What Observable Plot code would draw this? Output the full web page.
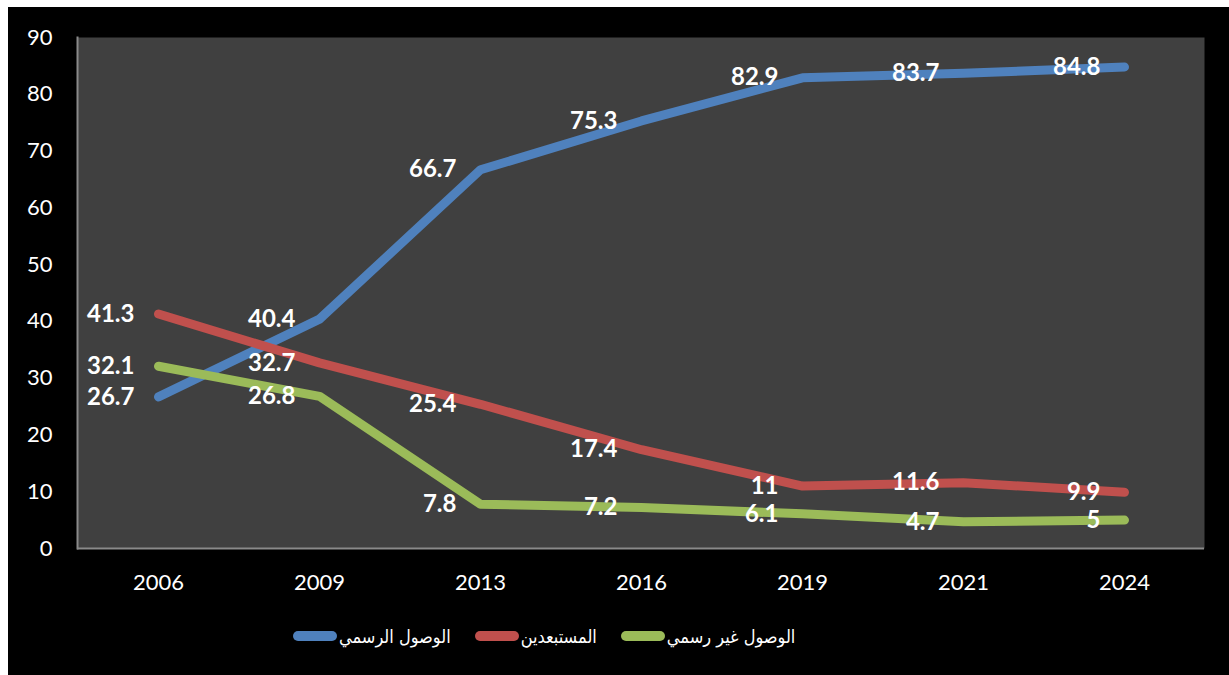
<!DOCTYPE html>
<html>
<head>
<meta charset="utf-8">
<script src="https://cdn.jsdelivr.net/npm/d3@7"></script>
<script src="https://cdn.jsdelivr.net/npm/@observablehq/plot@0.6"></script>
<style>
  html, body { margin: 0; padding: 0; background: #ffffff; }
  #box { position: absolute; left: 8px; top: 7px; width: 1221px; height: 668px; background: #000; overflow: hidden; }
  #legend { position: absolute; left: 0; top: 614px; width: 1221px; height: 30px; box-sizing: border-box; padding-left: 285px; display: flex; justify-content: flex-start; align-items: center; font-family: "DejaVu Sans Condensed", "DejaVu Sans", sans-serif; font-size: 18px; color: #fff; }
  .item { display: flex; align-items: center; margin-right: 24px; }
  .sw { width: 44px; height: 10px; border-radius: 5px; margin-right: 2px; }
</style>
</head>
<body>
<div id="box"><div id="chart"></div><div id="legend"></div></div>
<script>
const years = ["2006", "2009", "2013", "2016", "2019", "2021", "2024"];
const seriesNames = ["الوصول الرسمي", "المستبعدين", "الوصول غير رسمي"];
const seriesColors = ["#4F81BD", "#C0504D", "#9BBB59"];
const formal = [26.7, 40.4, 66.7, 75.3, 82.9, 83.7, 84.8];
const excluded = [41.3, 32.7, 25.4, 17.4, 11, 11.6, 9.9];
const informal = [32.1, 26.8, 7.8, 7.2, 6.1, 4.7, 5];
const yTicks = [0, 10, 20, 30, 40, 50, 60, 70, 80, 90];

const valuesBySeries = [formal, excluded, informal];
const rows = [];
seriesNames.forEach((s, i) => {
  years.forEach((y, j) => rows.push({series: s, year: y, value: valuesBySeries[i][j]}));
});

const axisGrey = "#8a8a8a";
const chart = Plot.plot({
  width: 1221,
  height: 600,
  marginLeft: 69,
  marginTop: 30,
  marginRight: 25,
  marginBottom: 59,
  style: {background: "transparent", color: "#fff", fontFamily: "Lato, 'Open Sans', sans-serif", fontSize: "22px"},
  x: {type: "point", domain: years, padding: 0.5, label: null},
  y: {domain: [0, 90], label: null},
  color: {domain: seriesNames, range: seriesColors},
  marks: [
    Plot.frame({fill: "#404040"}),
    Plot.axisX({tickSize: 0, tickPadding: 26, label: null, fontSize: 22}),
    Plot.axisY({ticks: yTicks, tickSize: 0, tickPadding: 25, label: null, fontSize: 22}),
    Plot.ruleY([0], {stroke: axisGrey, strokeWidth: 2}),
    Plot.frame({anchor: "left", stroke: axisGrey, strokeWidth: 2}),
    Plot.line(rows, {x: "year", y: "value", z: "series", stroke: "series", strokeWidth: 9, strokeLinecap: "round", strokeLinejoin: "round"}),
    Plot.text(rows, {x: "year", y: "value", text: d => String(d.value), textAnchor: "end", dx: -24, fill: "#fff", fontSize: 24, fontWeight: "bold"})
  ]
});
document.getElementById("chart").appendChild(chart);

const legend = document.getElementById("legend");
seriesNames.forEach((s, i) => {
  const item = document.createElement("div");
  item.className = "item";
  const sw = document.createElement("div");
  sw.className = "sw";
  sw.style.background = seriesColors[i];
  const t = document.createElement("span");
  t.textContent = s;
  t.setAttribute("dir", "rtl");
  item.appendChild(sw);
  item.appendChild(t);
  legend.appendChild(item);
});
</script>
</body>
</html>
